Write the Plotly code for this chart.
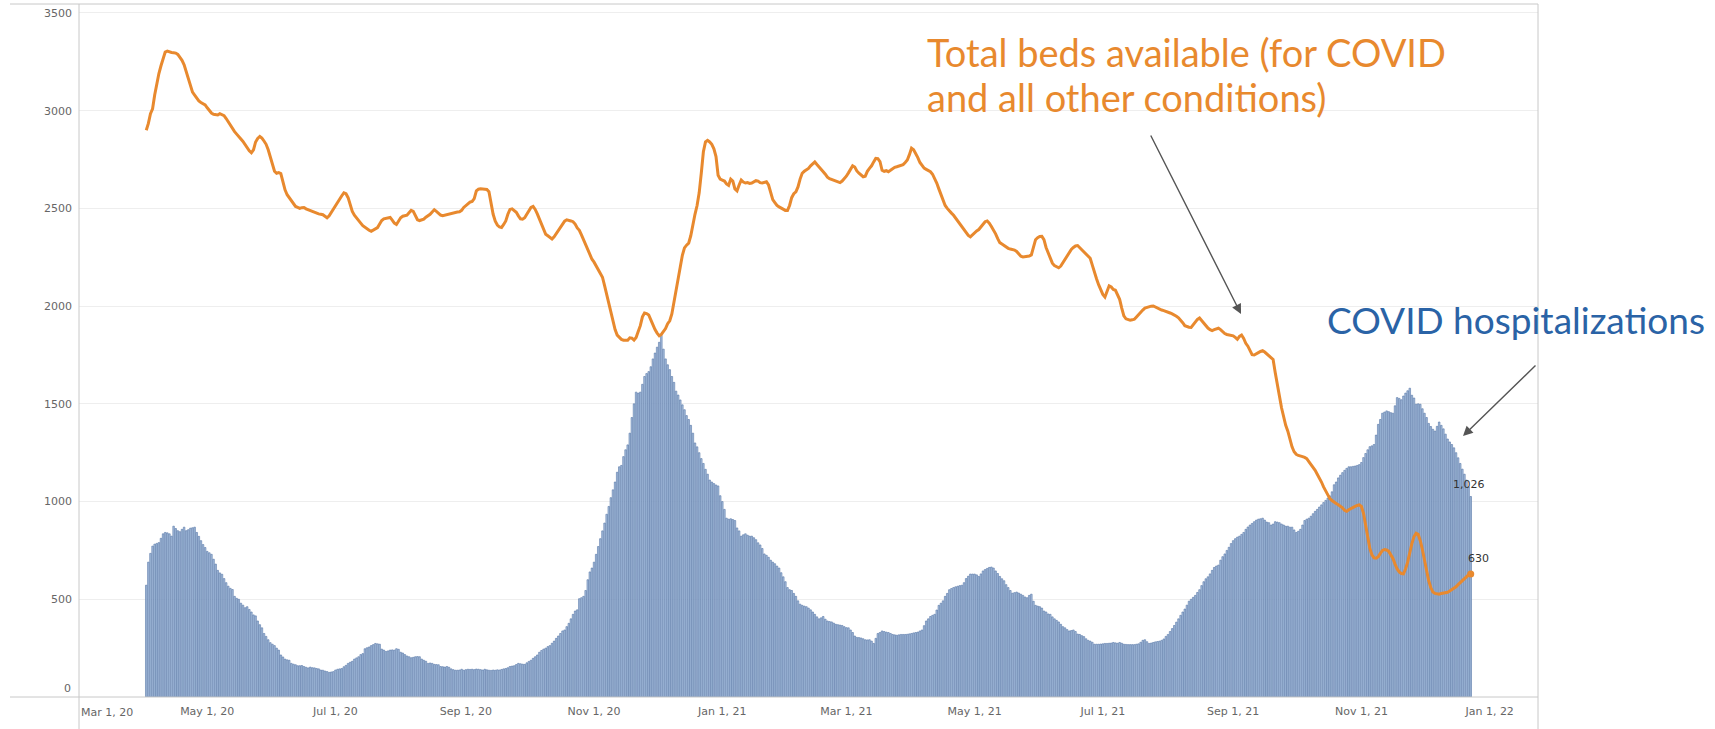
import pandas as pd
import plotly.graph_objects as go

# ---------------- DATA (daily values) ----------------
# first day of each monthly block (April 2020 starts on Apr 2)
month_starts = ["2020-04-02", "2020-05-01", "2020-06-01", "2020-07-01", "2020-08-01",
                "2020-09-01", "2020-10-01", "2020-11-01", "2020-12-01", "2021-01-01",
                "2021-02-01", "2021-03-01", "2021-04-01", "2021-05-01", "2021-06-01",
                "2021-07-01", "2021-08-01", "2021-09-01", "2021-10-01", "2021-11-01",
                "2021-12-01"]

# COVID hospitalizations (bars)
hosp_2020_04 = [572, 690, 735, 772, 782, 786, 790, 812, 835, 842, 840, 835, 823, 874, 862, 851, 846, 858, 869, 851, 856, 864, 866, 869, 842, 822, 800, 780, 765]
hosp_2020_05 = [745, 738, 730, 705, 680, 648, 635, 628, 606, 585, 567, 556, 550, 515, 505, 500, 480, 470, 457, 462, 448, 435, 420, 415, 389, 370, 354, 325, 310, 293, 278]
hosp_2020_06 = [270, 263, 250, 240, 215, 205, 194, 190, 188, 172, 168, 165, 160, 160, 161, 156, 152, 149, 153, 150, 149, 146, 144, 138, 137, 133, 130, 126, 128, 130]
hosp_2020_07 = [138, 142, 144, 146, 155, 162, 172, 178, 183, 194, 200, 206, 217, 222, 247, 252, 256, 263, 268, 274, 272, 270, 245, 240, 233, 236, 240, 241, 240, 247, 244]
hosp_2020_08 = [229, 225, 217, 210, 206, 201, 203, 206, 207, 206, 194, 188, 183, 172, 174, 172, 167, 166, 165, 156, 155, 153, 156, 152, 144, 140, 137, 137, 138, 142, 137]
hosp_2020_09 = [140, 142, 141, 142, 140, 143, 142, 140, 138, 142, 139, 137, 136, 138, 137, 139, 138, 141, 144, 146, 150, 156, 158, 160, 166, 172, 170, 168, 167, 175]
hosp_2020_10 = [182, 188, 198, 206, 215, 229, 238, 245, 250, 258, 263, 275, 286, 300, 312, 325, 338, 343, 360, 377, 400, 423, 440, 446, 503, 508, 515, 545, 600, 640, 660]
hosp_2020_11 = [690, 730, 770, 810, 850, 890, 935, 975, 1020, 1060, 1100, 1150, 1178, 1185, 1230, 1265, 1290, 1350, 1430, 1500, 1560, 1555, 1560, 1600, 1640, 1655, 1665, 1690, 1730, 1760]
hosp_2020_12 = [1790, 1815, 1850, 1780, 1730, 1700, 1675, 1640, 1610, 1565, 1545, 1520, 1495, 1470, 1440, 1420, 1390, 1350, 1300, 1280, 1250, 1220, 1195, 1165, 1140, 1110, 1100, 1092, 1085, 1080, 1030]
hosp_2021_01 = [1000, 960, 915, 910, 912, 908, 903, 865, 850, 823, 830, 835, 828, 823, 823, 815, 805, 789, 778, 760, 732, 725, 715, 700, 690, 682, 670, 660, 636, 615, 590]
hosp_2021_02 = [560, 549, 545, 530, 515, 492, 475, 469, 465, 462, 455, 446, 435, 423, 410, 400, 405, 412, 398, 389, 386, 384, 378, 372, 370, 368, 366, 360]
hosp_2021_03 = [355, 354, 343, 330, 312, 305, 304, 302, 298, 293, 292, 293, 286, 274, 300, 325, 330, 338, 335, 332, 330, 325, 320, 318, 316, 318, 320, 320, 320, 321, 323]
hosp_2021_04 = [325, 328, 330, 332, 338, 343, 365, 389, 400, 412, 418, 423, 445, 469, 480, 492, 515, 530, 549, 555, 560, 564, 567, 570, 572, 585, 606, 618, 629, 629]
hosp_2021_05 = [629, 625, 617, 630, 645, 652, 658, 663, 665, 660, 645, 632, 617, 605, 595, 575, 560, 545, 531, 534, 537, 532, 526, 520, 512, 508, 520, 526, 490, 469, 465]
hosp_2021_06 = [462, 455, 440, 435, 425, 423, 410, 400, 392, 384, 372, 360, 354, 345, 338, 340, 343, 335, 322, 320, 314, 309, 298, 290, 286, 280, 270, 270, 270, 271]
hosp_2021_07 = [272, 274, 274, 275, 276, 279, 277, 275, 279, 275, 270, 269, 268, 268, 268, 268, 270, 272, 280, 290, 293, 283, 274, 276, 279, 282, 284, 286, 290, 297, 310]
hosp_2021_08 = [320, 335, 350, 366, 383, 400, 418, 435, 450, 470, 490, 500, 510, 520, 535, 549, 570, 590, 605, 615, 630, 648, 663, 670, 675, 700, 718, 732, 750, 766, 785]
hosp_2021_09 = [800, 810, 818, 823, 832, 842, 858, 870, 880, 888, 897, 905, 910, 912, 915, 905, 895, 892, 880, 885, 897, 895, 892, 885, 880, 874, 874, 869, 869, 855]
hosp_2021_10 = [842, 848, 858, 880, 903, 910, 915, 925, 938, 950, 960, 972, 983, 995, 1006, 1018, 1029, 1050, 1086, 1100, 1121, 1135, 1148, 1160, 1170, 1178, 1178, 1180, 1182, 1185, 1189]
hosp_2021_11 = [1200, 1225, 1246, 1265, 1281, 1285, 1292, 1340, 1395, 1420, 1452, 1458, 1464, 1460, 1455, 1452, 1490, 1532, 1528, 1521, 1540, 1555, 1567, 1580, 1544, 1530, 1498, 1500, 1498, 1475]
hosp_2021_12 = [1452, 1430, 1400, 1384, 1370, 1361, 1385, 1407, 1390, 1372, 1345, 1320, 1305, 1292, 1275, 1250, 1224, 1195, 1166, 1140, 1110, 1075, 1026]

# Total beds available (line)
beds_2020_04 = [2900, 2935, 2985, 3010, 3080, 3140, 3190, 3230, 3265, 3300, 3305, 3300, 3298, 3297, 3295, 3288, 3275, 3258, 3235, 3200, 3160, 3125, 3095, 3080, 3062, 3050, 3042, 3035, 3030]
beds_2020_05 = [3015, 3000, 2988, 2982, 2980, 2978, 2985, 2978, 2975, 2960, 2944, 2925, 2905, 2893, 2880, 2870, 2855, 2843, 2825, 2810, 2795, 2785, 2800, 2840, 2858, 2868, 2860, 2845, 2828, 2800, 2760]
beds_2020_06 = [2731, 2690, 2680, 2683, 2678, 2630, 2595, 2570, 2555, 2538, 2520, 2510, 2505, 2500, 2504, 2505, 2498, 2493, 2490, 2485, 2478, 2475, 2472, 2470, 2468, 2460, 2452, 2462, 2480, 2495]
beds_2020_07 = [2510, 2527, 2545, 2565, 2580, 2575, 2555, 2520, 2485, 2465, 2450, 2438, 2425, 2412, 2403, 2395, 2388, 2383, 2388, 2395, 2402, 2420, 2438, 2447, 2450, 2452, 2454, 2440, 2425, 2418, 2438]
beds_2020_08 = [2452, 2460, 2462, 2465, 2478, 2490, 2485, 2462, 2442, 2438, 2440, 2445, 2455, 2462, 2470, 2482, 2493, 2485, 2475, 2466, 2463, 2466, 2470, 2470, 2472, 2475, 2478, 2482, 2483, 2490, 2505]
beds_2020_09 = [2515, 2525, 2532, 2536, 2550, 2590, 2598, 2600, 2600, 2598, 2597, 2585, 2520, 2470, 2435, 2415, 2405, 2402, 2418, 2436, 2470, 2495, 2498, 2490, 2480, 2462, 2447, 2445, 2452, 2470]
beds_2020_10 = [2490, 2505, 2510, 2495, 2472, 2445, 2415, 2390, 2368, 2360, 2350, 2344, 2355, 2372, 2388, 2405, 2420, 2435, 2442, 2440, 2436, 2432, 2420, 2400, 2388, 2365, 2340, 2320, 2295, 2265, 2240]
beds_2020_11 = [2225, 2205, 2192, 2170, 2148, 2105, 2060, 2010, 1960, 1915, 1880, 1852, 1838, 1830, 1826, 1825, 1826, 1838, 1836, 1826, 1840, 1870, 1900, 1945, 1965, 1962, 1955, 1930, 1900, 1880]
beds_2020_12 = [1862, 1848, 1855, 1868, 1885, 1910, 1925, 1960, 2015, 2075, 2140, 2200, 2260, 2298, 2312, 2322, 2360, 2420, 2470, 2515, 2580, 2680, 2790, 2840, 2848, 2840, 2828, 2805, 2765, 2670, 2650]
beds_2021_01 = [2645, 2640, 2625, 2618, 2650, 2640, 2600, 2590, 2620, 2645, 2635, 2630, 2632, 2628, 2630, 2635, 2642, 2640, 2632, 2630, 2635, 2636, 2620, 2580, 2545, 2530, 2515, 2508, 2502, 2495, 2490]
beds_2021_02 = [2490, 2515, 2555, 2575, 2585, 2610, 2650, 2680, 2690, 2698, 2705, 2718, 2730, 2738, 2725, 2714, 2700, 2688, 2675, 2660, 2652, 2648, 2645, 2640, 2635, 2632, 2640, 2652]
beds_2021_03 = [2665, 2682, 2700, 2718, 2712, 2692, 2680, 2670, 2662, 2665, 2690, 2705, 2718, 2738, 2756, 2755, 2740, 2695, 2690, 2693, 2688, 2695, 2705, 2710, 2713, 2716, 2720, 2724, 2735, 2748, 2775]
beds_2021_04 = [2808, 2800, 2782, 2760, 2735, 2718, 2706, 2700, 2695, 2688, 2675, 2655, 2630, 2600, 2570, 2548, 2515, 2500, 2486, 2476, 2465, 2450, 2432, 2418, 2402, 2388, 2373, 2362, 2355, 2365]
beds_2021_05 = [2378, 2385, 2392, 2405, 2420, 2432, 2436, 2425, 2408, 2392, 2370, 2345, 2325, 2318, 2310, 2302, 2296, 2292, 2290, 2287, 2280, 2265, 2255, 2252, 2253, 2254, 2256, 2262, 2300, 2340, 2350]
beds_2021_06 = [2356, 2357, 2340, 2300, 2275, 2245, 2220, 2207, 2200, 2196, 2205, 2222, 2240, 2260, 2280, 2290, 2300, 2308, 2310, 2300, 2288, 2276, 2268, 2258, 2245, 2210, 2170, 2140, 2110, 2081]
beds_2021_07 = [2060, 2047, 2075, 2104, 2098, 2085, 2081, 2060, 2035, 1990, 1950, 1935, 1930, 1928, 1930, 1933, 1945, 1958, 1967, 1980, 1990, 1994, 1998, 2000, 2001, 1995, 1988, 1983, 1980, 1977, 1974]
beds_2021_08 = [1970, 1965, 1960, 1955, 1948, 1940, 1930, 1915, 1900, 1895, 1892, 1891, 1905, 1920, 1932, 1939, 1925, 1910, 1898, 1888, 1880, 1875, 1880, 1885, 1887, 1880, 1868, 1860, 1855, 1852, 1848]
beds_2021_09 = [1848, 1840, 1830, 1845, 1852, 1835, 1810, 1795, 1775, 1752, 1750, 1758, 1762, 1768, 1772, 1765, 1755, 1745, 1735, 1727, 1660, 1590, 1540, 1480, 1430, 1390, 1360, 1320, 1280, 1255]
beds_2021_10 = [1242, 1236, 1234, 1230, 1226, 1220, 1205, 1192, 1178, 1160, 1140, 1121, 1100, 1075, 1055, 1035, 1015, 1005, 996, 990, 984, 978, 968, 955, 950, 958, 965, 972, 975, 980, 983]
beds_2021_11 = [975, 940, 880, 810, 760, 728, 712, 710, 718, 735, 750, 754, 752, 745, 728, 709, 680, 655, 640, 632, 630, 655, 690, 740, 785, 820, 838, 832, 800, 755]
beds_2021_12 = [700, 640, 595, 560, 537, 530, 527, 526, 530, 532, 531, 536, 542, 548, 555, 564, 575, 585, 595, 607, 617, 625, 630]

hosp_blocks = [hosp_2020_04, hosp_2020_05, hosp_2020_06, hosp_2020_07, hosp_2020_08, hosp_2020_09,
               hosp_2020_10, hosp_2020_11, hosp_2020_12, hosp_2021_01, hosp_2021_02, hosp_2021_03,
               hosp_2021_04, hosp_2021_05, hosp_2021_06, hosp_2021_07, hosp_2021_08, hosp_2021_09,
               hosp_2021_10, hosp_2021_11, hosp_2021_12]
beds_blocks = [beds_2020_04, beds_2020_05, beds_2020_06, beds_2020_07, beds_2020_08, beds_2020_09,
               beds_2020_10, beds_2020_11, beds_2020_12, beds_2021_01, beds_2021_02, beds_2021_03,
               beds_2021_04, beds_2021_05, beds_2021_06, beds_2021_07, beds_2021_08, beds_2021_09,
               beds_2021_10, beds_2021_11, beds_2021_12]

y_ticks = [500, 1000, 1500, 2000, 2500, 3000, 3500]
x_tick_dates = ["2020-05-01", "2020-07-01", "2020-09-01", "2020-11-01", "2021-01-01",
                "2021-03-01", "2021-05-01", "2021-07-01", "2021-09-01", "2021-11-01", "2022-01-01"]
first_x_label = "Mar 1, 20"
zero_label = "0"
beds_label = ["Total beds available (for COVID", "and all other conditions)"]
hosp_label = "COVID hospitalizations"

# ---------------- BUILD SERIES ----------------
hosp_x, hosp_y, beds_x, beds_y = [], [], [], []
for start, h, b in zip(month_starts, hosp_blocks, beds_blocks):
    hosp_x += list(pd.date_range(start, periods=len(h), freq="D"))
    hosp_y += h
    beds_x += list(pd.date_range(start, periods=len(b), freq="D"))
    beds_y += b

# ---------------- LAYOUT GEOMETRY ----------------
W, H = 1715, 729
L, R, T, B = 79, 177, 4, 32
PW, PH = W - L - R, H - T - B


def px(xp):
    return (xp - L) / PW


def py(yp):
    return (H - B - yp) / PH


ORANGE = "#E8892E"
BLUE_TXT = "#2A63A6"
AXIS_GREY = "#c8c8c8"
TICK_FONT = dict(family="DejaVu Sans", size=11, color="#666666")

fig = go.Figure()
fig.add_trace(go.Bar(
    x=hosp_x, y=hosp_y,
    marker=dict(color="#a9c0de", line=dict(color="#5676a6", width=0.6)),
    showlegend=False,
))
fig.add_trace(go.Scatter(
    x=beds_x, y=beds_y, mode="lines",
    line=dict(color=ORANGE, width=3),
    showlegend=False,
))
fig.add_trace(go.Scatter(
    x=[beds_x[-1]], y=[beds_y[-1]], mode="markers",
    marker=dict(color=ORANGE, size=7),
    showlegend=False,
))

fig.update_layout(
    width=W, height=H,
    margin=dict(l=L, r=R, t=T, b=B, pad=0),
    paper_bgcolor="white", plot_bgcolor="white",
    bargap=0.25,
    xaxis=dict(
        type="date", range=["2020-03-01", "2022-01-24"],
        tickvals=x_tick_dates, tickformat="%b %-d, %y",
        showgrid=False, zeroline=False, showline=False, ticks="",
        tickfont=TICK_FONT, ticklabelstandoff=6,
    ),
    yaxis=dict(
        range=[0, 3546], tickvals=y_ticks, tickformat="d",
        showgrid=True, gridcolor="#eeeeee", gridwidth=1,
        zeroline=False, showline=False, ticks="",
        tickfont=TICK_FONT, ticklabelstandoff=6,
    ),
)

# frame lines (Tableau-like pane borders)
frame = [
    (px(10), py(697), px(1538), py(697)),
    (px(10), py(4), px(1538), py(4)),
    (px(79), py(729), px(79), py(4)),
    (px(1538), py(729), px(1538), py(4)),
]
for x0, y0, x1, y1 in frame:
    fig.add_shape(type="line", xref="paper", yref="paper", x0=x0, y0=y0, x1=x1, y1=y1,
                  line=dict(color=AXIS_GREY, width=1), layer="above")

# shifted first x label and zero label
fig.add_annotation(xref="paper", yref="paper", x=px(79), y=py(712), text=first_x_label,
                   showarrow=False, xanchor="left", yanchor="middle", font=TICK_FONT)
fig.add_annotation(xref="paper", yref="paper", x=px(73), y=py(688), text=zero_label,
                   showarrow=False, xanchor="right", yanchor="middle", font=TICK_FONT)

# end value labels
fig.add_annotation(x=hosp_x[-1], y=hosp_y[-1], text=f"{hosp_y[-1]:,}", showarrow=False,
                   xanchor="center", yanchor="bottom", yshift=3, xshift=-2,
                   font=dict(family="DejaVu Sans", size=11, color="#333333"))
fig.add_annotation(x=beds_x[-1], y=beds_y[-1], text=f"{beds_y[-1]:,}", showarrow=False,
                   xanchor="center", yanchor="bottom", yshift=7, xshift=8,
                   font=dict(family="DejaVu Sans", size=11, color="#333333"))

# callout texts
fig.add_annotation(xref="paper", yref="paper", x=px(925), y=py(52), text=beds_label[0],
                   showarrow=False, xanchor="left", yanchor="middle",
                   font=dict(family="Lato", size=38, color=ORANGE))
fig.add_annotation(xref="paper", yref="paper", x=px(925), y=py(97), text=beds_label[1],
                   showarrow=False, xanchor="left", yanchor="middle",
                   font=dict(family="Lato", size=38, color=ORANGE))
fig.add_annotation(xref="paper", yref="paper", x=px(1325), y=py(319), text=hosp_label,
                   showarrow=False, xanchor="left", yanchor="middle",
                   font=dict(family="Lato", size=37, color=BLUE_TXT))

# arrows
for (tx, ty), (hx, hy) in [((1150, 134), (1241, 314)), ((1537, 364), (1463, 436))]:
    fig.add_annotation(xref="paper", yref="paper", x=px(hx), y=py(hy), ax=tx - hx, ay=ty - hy,
                       axref="pixel", ayref="pixel", text="", showarrow=True,
                       arrowhead=2, arrowsize=1.4, arrowwidth=1.4, arrowcolor="#555555")

fig.write_html("out.html", config={"displayModeBar": False},
               post_script="document.body.style.margin='0px';document.body.style.overflow='hidden';")
